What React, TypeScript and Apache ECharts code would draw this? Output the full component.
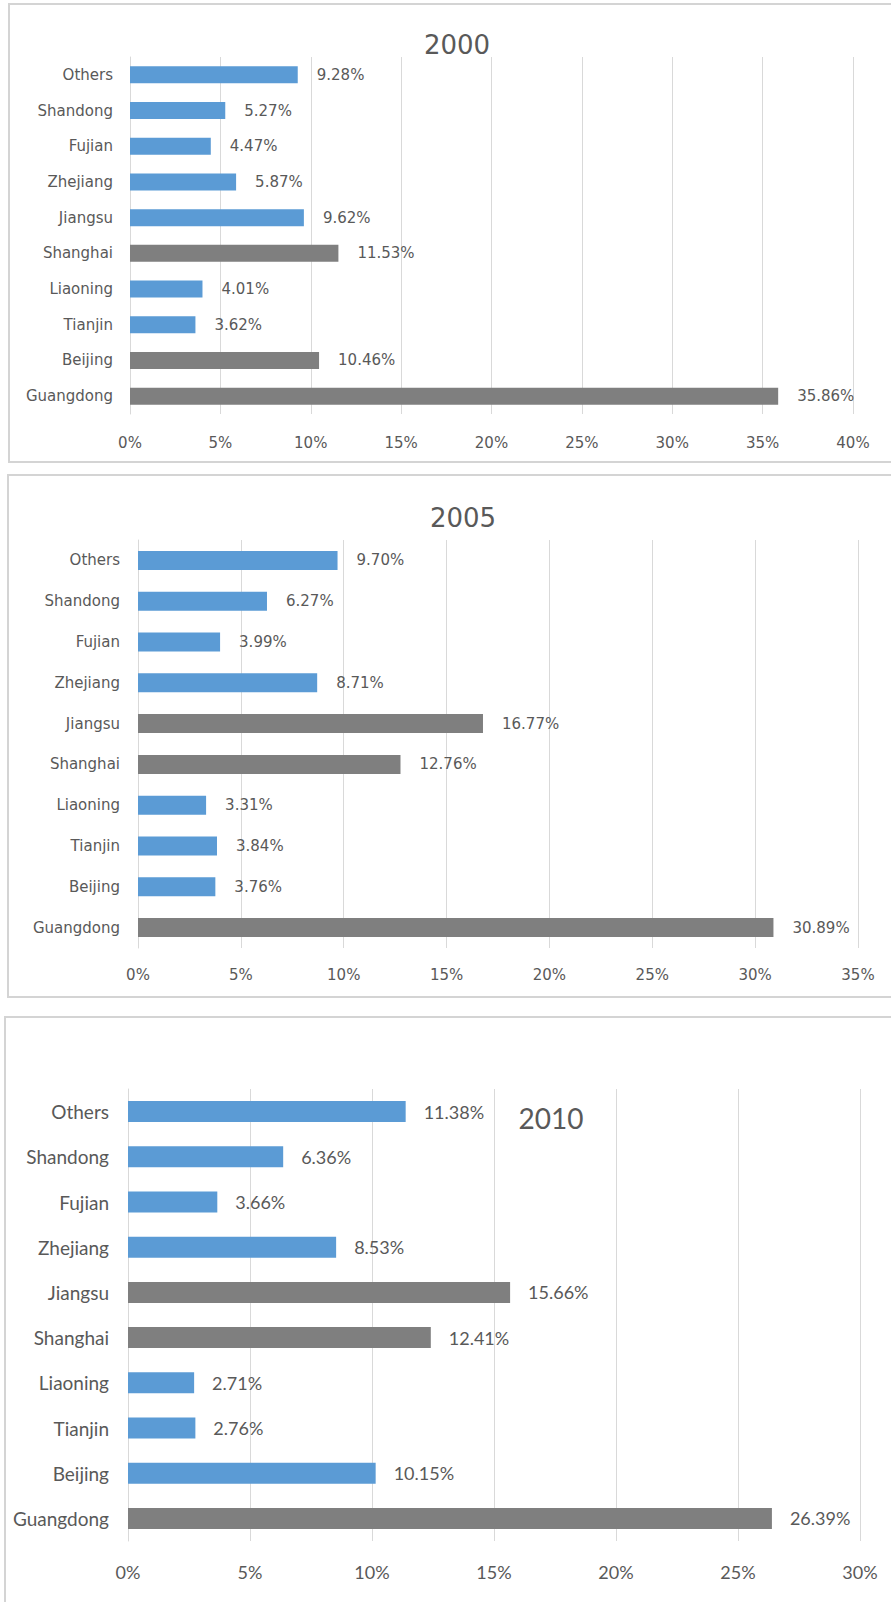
import React, { useEffect, useRef } from "react";
import * as echarts from "echarts";

const categories = ["Guangdong", "Beijing", "Tianjin", "Liaoning", "Shanghai", "Jiangsu", "Zhejiang", "Fujian", "Shandong", "Others"];

const values2000 = [35.86, 10.46, 3.62, 4.01, 11.53, 9.62, 5.87, 4.47, 5.27, 9.28];
const values2005 = [30.89, 3.76, 3.84, 3.31, 12.76, 16.77, 8.71, 3.99, 6.27, 9.7];
const values2010 = [26.39, 10.15, 2.76, 2.71, 12.41, 15.66, 8.53, 3.66, 6.36, 11.38];

const grey2000 = ["Guangdong", "Beijing", "Shanghai"];
const grey2005 = ["Guangdong", "Shanghai", "Jiangsu"];
const grey2010 = ["Guangdong", "Shanghai", "Jiangsu"];

const titles = ["2000", "2005", "2010"];
const axisMax = [40, 35, 30];

const BLUE = "#5B9BD5";
const GREY = "#7F7F7F";
const TEXT = "#595959";
const GRID = "#D9D9D9";

export default function App() {
  const ref = useRef<HTMLDivElement>(null);
  useEffect(() => {
    if (!ref.current) return;
    const chart = echarts.init(ref.current, null, { renderer: "svg" });

    const panels = [
      { vals: values2000, grey: grey2000, grid: { left: 130, top: 57, width: 723, height: 357 }, bar: 17, font: "DejaVu Sans", cat: 15, tick: 15, lab: 15, catMargin: 17, tickMargin: 21, dist: 19 },
      { vals: values2005, grey: grey2005, grid: { left: 138, top: 540, width: 720, height: 408 }, bar: 19, font: "DejaVu Sans", cat: 15, tick: 15, lab: 15, catMargin: 18, tickMargin: 19, dist: 19 },
      { vals: values2010, grey: grey2010, grid: { left: 128, top: 1089, width: 732, height: 452 }, bar: 21, font: "Lato", cat: 19, tick: 18, lab: 18, catMargin: 19, tickMargin: 22, dist: 18 },
    ];

    const option: any = {
      animation: false,
      backgroundColor: "#ffffff",
      grid: panels.map((p) => ({ ...p.grid, containLabel: false })),
      xAxis: panels.map((p, i) => ({
        type: "value",
        gridIndex: i,
        min: 0,
        max: axisMax[i],
        interval: 5,
        axisLine: { show: false },
        axisTick: { show: false },
        splitLine: { show: true, lineStyle: { color: GRID, width: 1 } },
        axisLabel: {
          formatter: "{value}%",
          color: TEXT,
          fontFamily: p.font,
          fontSize: p.tick,
          margin: p.tickMargin,
        },
      })),
      yAxis: panels.map((p, i) => ({
        type: "category",
        gridIndex: i,
        data: categories,
        axisLine: { show: true, lineStyle: { color: GRID, width: 1 } },
        axisTick: { show: false },
        axisLabel: {
          color: TEXT,
          fontFamily: p.font,
          fontSize: p.cat,
          margin: p.catMargin,
        },
      })),
      series: panels.map((p, i) => ({
        type: "bar",
        name: titles[i],
        xAxisIndex: i,
        yAxisIndex: i,
        barWidth: p.bar,
        data: categories.map((c, k) => ({
          value: p.vals[k],
          itemStyle: { color: p.grey.includes(c) ? GREY : BLUE },
        })),
        label: {
          show: true,
          position: "right",
          distance: p.dist,
          color: TEXT,
          fontFamily: p.font,
          fontSize: p.lab,
          formatter: (d: any) => d.value.toFixed(2) + "%",
        },
      })),
      graphic: [
        { type: "rect", shape: { x: 9, y: 4, width: 900, height: 458 }, style: { fill: "none", stroke: "#D4D4D4", lineWidth: 2 }, silent: true, z: -1 },
        { type: "rect", shape: { x: 8, y: 475, width: 900, height: 522 }, style: { fill: "none", stroke: "#D4D4D4", lineWidth: 2 }, silent: true, z: -1 },
        { type: "rect", shape: { x: 5, y: 1017, width: 900, height: 600 }, style: { fill: "none", stroke: "#D4D4D4", lineWidth: 2 }, silent: true, z: -1 },
        { type: "text", x: 457, y: 45, style: { text: titles[0], fill: TEXT, fontFamily: "DejaVu Sans", fontSize: 26, align: "center", verticalAlign: "middle" } },
        { type: "text", x: 463, y: 518, style: { text: titles[1], fill: TEXT, fontFamily: "DejaVu Sans", fontSize: 26, align: "center", verticalAlign: "middle" } },
        { type: "text", x: 551, y: 1118, style: { text: titles[2], fill: TEXT, fontFamily: "Lato", fontSize: 28, align: "center", verticalAlign: "middle" } },
      ],
    };
    chart.setOption(option);
    return () => chart.dispose();
  }, []);
  return <div ref={ref} style={{ position: "absolute", left: 0, top: 0, width: 891, height: 1602 }} />;
}
